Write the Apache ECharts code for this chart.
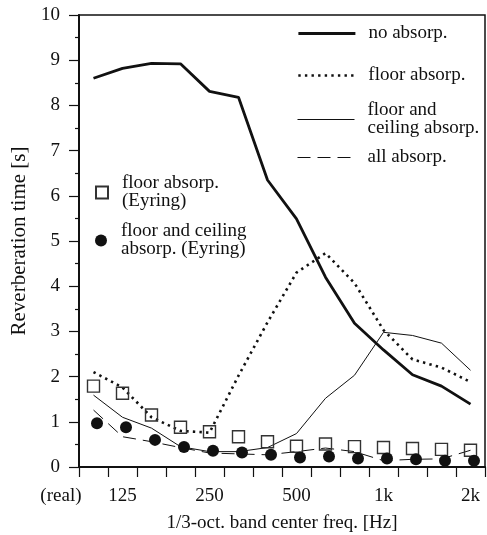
<!DOCTYPE html>
<html>
<head>
<meta charset="utf-8">
<script src="https://cdn.jsdelivr.net/npm/echarts@6/dist/echarts.min.js"></script>
<style>
  html, body { margin: 0; padding: 0; background: #fff; }
  #chart { width: 487px; height: 535px; }
</style>
</head>
<body>
<div id="chart"></div>
<script>
// 1/3-octave bands (first entry is the measured real room)
const categories = ['(real)', '125', '160', '200', '250', '315', '400', '500', '630', '800', '1k', '1.25k', '1.6k', '2k'];
const tickLabels = ['(real)', '125', '250', '500', '1k', '2k'];

// Reverberation time [s]
const noAbsorp        = [8.6, 8.82, 8.93, 8.92, 8.31, 8.18, 6.35, 5.49, 4.2, 3.18, 2.59, 2.04, 1.79, 1.39];
const floorAbsorp     = [2.1, 1.76, 1.1, 0.8, 0.76, 2.02, 3.2, 4.3, 4.73, 4.07, 3.03, 2.38, 2.2, 1.88];
const floorCeilAbsorp = [1.59, 1.1, 0.86, 0.45, 0.34, 0.34, 0.43, 0.74, 1.52, 2.03, 2.98, 2.91, 2.74, 2.14];
const allAbsorp       = [1.26, 0.67, 0.56, 0.43, 0.31, 0.29, 0.27, 0.34, 0.42, 0.34, 0.14, 0.17, 0.18, 0.37];
const floorEyring     = [1.79, 1.63, 1.15, 0.88, 0.78, 0.67, 0.56, 0.46, 0.51, 0.45, 0.43, 0.41, 0.39, 0.37];
const floorCeilEyring = [0.97, 0.88, 0.6, 0.44, 0.36, 0.32, 0.27, 0.21, 0.23, 0.19, 0.19, 0.17, 0.14, 0.14];

const yTicks = { min: 0, max: 10, interval: 1 };

const FONT = 'Liberation Serif';
const FS = 19;
const INK = '#111';

const W_THICK = 2.8, W_DOT = 2.6, W_THIN = 1, W_DASH = 1;
const DOTS = [2.4, 4.2], DASHES = [13, 7];

const legendText = {
  'no absorp.': 'no absorp.',
  'floor absorp.': 'floor absorp.',
  'floor and ceiling absorp.': 'floor and\nceiling absorp.',
  'all absorp.': 'all absorp.',
  'floor absorp. (Eyring)': 'floor absorp.\n(Eyring)',
  'floor and ceiling absorp. (Eyring)': 'floor and ceiling\nabsorp. (Eyring)'
};

// one legend block per entry so each can sit exactly where it belongs
function legendFor(name, left, top, itemWidth, itemHeight, padLeft, lineWidth) {
  const lg = {
    data: [name],
    left: left,
    top: top,
    orient: 'vertical',
    padding: 0,
    itemWidth: itemWidth,
    itemHeight: itemHeight,
    selectedMode: false,
    formatter: n => legendText[n],
    textStyle: {
      fontFamily: FONT, fontSize: FS, lineHeight: 18, color: INK,
      padding: [0, 0, 0, padLeft]
    }
  };
  if (lineWidth) {
    lg.itemStyle = { opacity: 0 };
    lg.lineStyle = { width: lineWidth };
  }
  return lg;
}

const chart = echarts.init(document.getElementById('chart'), null, { renderer: 'canvas' });

chart.setOption({
  animation: false,
  backgroundColor: '#fff',
  textStyle: { fontFamily: FONT, color: INK },
  grid: {
    left: 79, right: 2, top: 15, bottom: 68,
    outerBoundsMode: 'none',
    show: true, borderColor: INK, borderWidth: 1.5, backgroundColor: 'transparent'
  },
  legend: [
    legendFor('no absorp.', 297, 24, 57, 18, 8, W_THICK),
    legendFor('floor absorp.', 297, 66, 57, 18, 8, W_DOT),
    legendFor('floor and ceiling absorp.', 297, 101, 57, 18, 8, W_THIN),
    legendFor('all absorp.', 297, 148, 57, 18, 8, W_DASH),
    legendFor('floor absorp. (Eyring)', 95, 174, 12, 12, 9, 0),
    legendFor('floor and ceiling absorp. (Eyring)', 95, 222, 12, 12, 9, 0)
  ],
  xAxis: {
    type: 'category',
    data: categories.map(c => c === '(real)'
      ? { value: c, textStyle: { align: 'right', padding: [0, 12, 0, 0] } }
      : c),
    boundaryGap: true,
    name: '1/3-oct. band center freq. [Hz]',
    nameLocation: 'middle',
    nameGap: 47,
    nameTextStyle: { fontFamily: FONT, fontSize: FS, color: INK },
    axisLine: { lineStyle: { color: INK, width: 2 } },
    axisTick: { show: true, length: 10, interval: 0, lineStyle: { color: INK, width: 1.2 } },
    axisLabel: {
      interval: (idx, val) => tickLabels.indexOf(val) >= 0,
      margin: 20,
      fontFamily: FONT, fontSize: FS, color: INK
    },
    splitLine: { show: false }
  },
  yAxis: {
    type: 'value',
    min: yTicks.min, max: yTicks.max, interval: yTicks.interval,
    name: 'Reverberation time [s]',
    nameLocation: 'middle',
    nameGap: 46,
    nameTextStyle: { fontFamily: FONT, fontSize: 21, color: INK },
    axisLine: { show: true, lineStyle: { color: INK, width: 2 } },
    axisTick: { show: true, length: 10, lineStyle: { color: INK, width: 1.2 } },
    minorTick: { show: true, splitNumber: 2, length: 4, lineStyle: { color: INK, width: 1.2 } },
    axisLabel: { margin: 19, fontFamily: FONT, fontSize: FS, color: INK },
    splitLine: { show: false },
    minorSplitLine: { show: false }
  },
  series: [
    {
      name: 'no absorp.', type: 'line', data: noAbsorp,
      symbol: 'none', color: INK,
      lineStyle: { color: INK, width: W_THICK }, z: 3
    },
    {
      name: 'floor absorp.', type: 'line', data: floorAbsorp,
      symbol: 'none', color: INK,
      lineStyle: { color: INK, width: W_DOT, type: DOTS, cap: 'butt' }, z: 3
    },
    {
      name: 'floor and ceiling absorp.', type: 'line', data: floorCeilAbsorp,
      symbol: 'none', color: INK,
      lineStyle: { color: INK, width: W_THIN }, z: 3
    },
    {
      name: 'all absorp.', type: 'line', data: allAbsorp,
      symbol: 'none', color: INK,
      lineStyle: { color: INK, width: W_DASH, type: DASHES }, z: 3
    },
    {
      name: 'floor absorp. (Eyring)', type: 'scatter', data: floorEyring,
      symbol: 'rect', symbolSize: 12,
      itemStyle: { color: 'rgba(255,255,255,0)', borderColor: '#333', borderWidth: 1.4, opacity: 1 },
      z: 4
    },
    {
      name: 'floor and ceiling absorp. (Eyring)', type: 'scatter', data: floorCeilEyring,
      symbol: 'circle', symbolSize: 12, symbolOffset: [3.5, 0],
      itemStyle: { color: INK, opacity: 1 }, z: 5
    }
  ]
});
</script>
</body>
</html>
